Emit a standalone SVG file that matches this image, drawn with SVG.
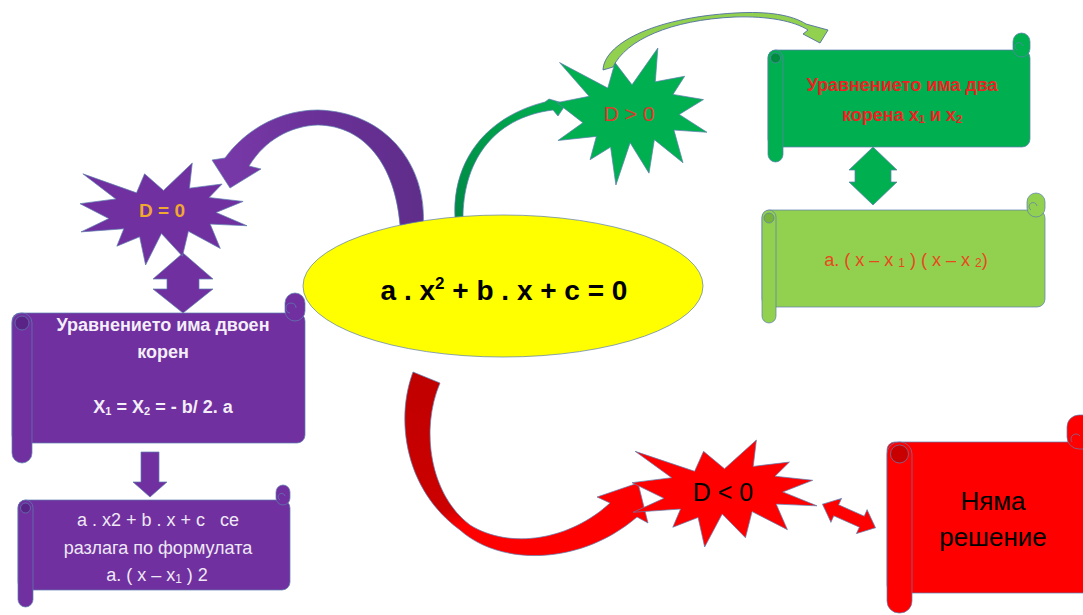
<svg xmlns="http://www.w3.org/2000/svg" xmlns:xlink="http://www.w3.org/1999/xlink" width="1083" height="615" viewBox="0 0 1083 615">
<style>
text{font-family:"Liberation Sans",Arial,sans-serif;text-anchor:middle}
.ol{stroke:#5f7fb0;stroke-width:0.9;stroke-opacity:0.8}
.pu{fill:#7030A0}
.puD{fill:#5a2486}
.gr{fill:#00B050}
.grD{fill:#008c3f}
.lg{fill:#92D050}
.lgD{fill:#78b33a}
.rd{fill:#FF0000}
.rdD{fill:#c80000}
.wb{fill:#f4eef8;font-weight:bold;font-size:18px}
.wr{fill:#efe8f5;font-size:18px}
</style>
<defs>
<path id="seal" vector-effect="non-scaling-stroke" d="M50,26.85 L67.23,0 L65.53,24.65 L85.09,20.64 L77.31,33.86 L97.67,37.67 L81.51,48.49 L100,61.53 L77.95,59.92 L84,83.77 L64.91,66.93 L61.33,91.38 L48.76,69.14 L39.28,100 L35.72,72.35 L22.05,81.56 L26.24,64.52 L0.63,67.53 L17.23,54.51 L0,39.88 L21.42,35.26 L1.71,10.63 L33.85,29.26 L38.67,10.63 Z"/>
<linearGradient id="gRed" x1="0" y1="0" x2="0.35" y2="1">
<stop offset="0" stop-color="#c00000"/><stop offset="0.72" stop-color="#cc0000"/><stop offset="0.82" stop-color="#ff0000"/><stop offset="1" stop-color="#ff0000"/>
</linearGradient>
<linearGradient id="gPur" x1="1" y1="0" x2="0" y2="0">
<stop offset="0" stop-color="#5f2d8a"/><stop offset="0.5" stop-color="#6a3198"/><stop offset="1" stop-color="#7a3aaa"/>
</linearGradient>
<linearGradient id="gGrn" x1="0" y1="1" x2="1" y2="0">
<stop offset="0" stop-color="#008845"/><stop offset="1" stop-color="#00B050"/>
</linearGradient>
</defs>

<g id="connectors">
<path id="arrow-eq-d0" class="ol" fill="url(#gPur)" d="M423,227 C428,170 390,112 318,110 C280,110 245,130 225,158 L212,160 L230,188 L261,169 L249,166 C265,140 290,126 318,125 C365,126 395,165 400,225 Z"/>
<path id="arrow-eq-dpos" class="ol" fill="url(#gGrn)" d="M455,218 C452,165 482,118 545,102 L549,99 L566,104 L558,116 L553,110 C490,118 463,165 463,218 Z"/>
<path id="arrow-eq-dneg" class="ol" fill="url(#gRed)" d="M413,372 C395,420 405,490 460,530 C500,566 580,566 637,517 L648,523 L638,483 L597,497 L610,503 C570,540 510,550 470,525 C430,495 420,430 440,383 Z"/>
<polygon id="arrow-d0-box" class="pu ol" points="183,253 213,279 199,279 199,289 213,289 183,313 153,289 167,289 167,279 153,279"/>
<polygon id="arrow-box1-box2" class="pu ol" points="141,452 159,452 159,482 167,482 150,497 133,482 141,482"/>
<polygon id="arrow-g1-g2" class="gr ol" points="873,147 897,170 891,170 891,182 897,182 873,205 849,182 855,182 855,170 849,170"/>
<polygon id="arrow-dneg-red" class="rd ol" transform="translate(849,516) rotate(24)" points="-29,0 -14,-13 -14,-6 14,-6 14,-13 29,0 14,13 14,6 -14,6 -14,13"/>
</g>

<g id="node-equation">
<ellipse cx="503" cy="286" rx="200" ry="71" fill="#FFFF00" class="ol"/>
<text x="504" y="300" font-size="28" font-weight="bold" fill="#000">a . x<tspan dy="-11" font-size="17">2</tspan><tspan dy="11"> + b . x + c = 0</tspan></text>
</g>

<g id="node-d0">
<use xlink:href="#seal" href="#seal" class="pu ol" transform="translate(80,163) scale(1.67,1.02)"/>
<text x="162" y="217" font-size="19" font-weight="bold" fill="#f0a830">D = 0</text>
</g>

<g id="node-dpos">
<use xlink:href="#seal" href="#seal" class="gr ol" transform="translate(557,48) scale(1.5,1.37)"/>
<text x="629" y="121" font-size="21" fill="#e0382c">D &gt; 0</text>
</g>

<g id="node-dneg">
<use xlink:href="#seal" href="#seal" class="rd ol" transform="translate(632,440) scale(1.85,1.07)"/>
<text x="723" y="501" font-size="25" fill="#000">D &lt; 0</text>
</g>

<path id="arrow-dpos-box" class="lg" stroke="#4f6f9f" stroke-width="0.9" d="M603,70 C604,45 650,18 735,13 C768,11 792,15 806,24 L828,30 L820,43 L803,34 L808,30 C794,21 768,16 735,17 C670,20 626,40 613,67 Z"/>

<g id="node-double-root">
<rect x="12" y="313" width="293" height="130" rx="8" class="pu ol"/>
<rect x="285" y="293" width="20" height="28" rx="10" class="pu ol"/>
<path d="M290,313 a5,5 0 1 1 6,-5" fill="none" class="ol"/>
<rect x="12" y="313" width="20" height="150" rx="10" class="pu ol"/>
<circle cx="22" cy="323" r="7" class="puD ol"/>
<text class="wb" x="163" y="331">Уравнението има двоен</text>
<text class="wb" x="163" y="358">корен</text>
<text class="wb" x="163" y="413">X<tspan font-size="11" dy="2">1</tspan><tspan dy="-2"> = X</tspan><tspan font-size="11" dy="2">2</tspan><tspan dy="-2"> = - b/ 2. a</tspan></text>
</g>

<g id="node-factor-one">
<rect x="18" y="500" width="272" height="90" rx="8" class="pu ol"/>
<rect x="276" y="485" width="14" height="20" rx="7" class="pu ol"/>
<path d="M280,500 a3.5,3.5 0 1 1 5,-4" fill="none" class="ol"/>
<rect x="18" y="500" width="15" height="107" rx="7.5" class="pu ol"/>
<circle cx="25.5" cy="508" r="5" class="puD ol"/>
<text class="wr" x="158" y="526" style="white-space:pre">a . x2 + b . x + c   ce</text>
<text class="wr" x="158" y="554">разлага по формулата</text>
<text class="wr" x="157" y="581">a. ( x – x<tspan font-size="12" dy="2">1</tspan><tspan dy="-2"> ) 2</tspan></text>
</g>

<g id="node-two-roots">
<rect x="768" y="50" width="262" height="97" rx="8" class="gr ol"/>
<rect x="1013" y="33" width="17" height="24" rx="8.5" class="gr ol"/>
<path d="M1017,50 a4,4 0 1 1 6,-4" fill="none" class="ol"/>
<rect x="768" y="50" width="15" height="112" rx="7.5" class="gr ol"/>
<circle cx="775.5" cy="58" r="5" class="grD ol"/>
<text x="902" y="91" font-size="18" font-weight="bold" fill="#ee2222">Уравнението има два</text>
<text x="902" y="121" font-size="18" font-weight="bold" fill="#ee2222">корена x<tspan font-size="11" dy="2">1</tspan><tspan dy="-2"> и x</tspan><tspan font-size="11" dy="2">2</tspan></text>
</g>

<g id="node-factor-two">
<rect x="762" y="210" width="283" height="97" rx="8" class="lg ol"/>
<rect x="1027" y="193" width="18" height="24" rx="9" class="lg ol"/>
<path d="M1031,210 a4,4 0 1 1 6,-4" fill="none" class="ol"/>
<rect x="762" y="210" width="14" height="113" rx="7" class="lg ol"/>
<circle cx="769" cy="218" r="5" class="lgD ol"/>
<text x="906" y="266" font-size="18" fill="#e8481e">a. ( x – x <tspan font-size="12" dy="1">1</tspan><tspan dy="-1"> ) ( x – x </tspan><tspan font-size="12" dy="1">2</tspan><tspan dy="-1">)</tspan></text>
</g>

<g id="node-no-solution">
<rect x="887" y="442" width="210" height="151" rx="8" class="rd ol"/>
<rect x="1067" y="415" width="30" height="34" rx="12" class="rd ol"/>
<path d="M1072,442 a5,5 0 1 1 8,-6" fill="none" class="ol"/>
<rect x="887" y="442" width="25" height="171" rx="12" class="rd ol"/>
<circle cx="899.5" cy="454" r="9" class="rdD ol"/>
<text x="993" y="510" font-size="26" fill="#000">Няма</text>
<text x="993" y="546" font-size="26" fill="#000">решение</text>
</g>
</svg>
